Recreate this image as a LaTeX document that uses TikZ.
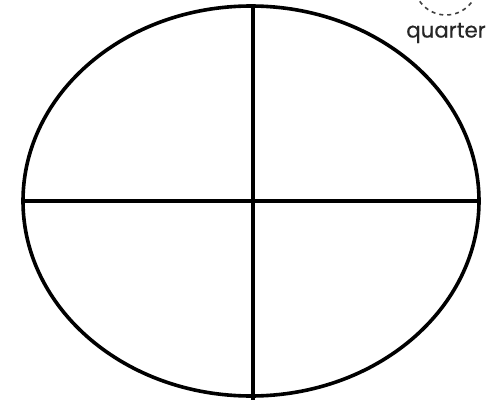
\documentclass[tikz,border=0pt]{standalone}
\usepackage{fontspec}
\setmainfont{Poppins}
\newfontfamily\tagfont{Poppins}[FakeBold=0.5]
\usetikzlibrary{shapes.geometric}

\begin{document}
\begin{tikzpicture}[x=0.75pt, y=-0.75pt, line width=2.7pt,
  every node/.style={inner sep=0pt, outer sep=0pt},
  shapebox/.style={draw, ellipse, minimum width=342pt, minimum height=292.5pt},
  hintcircle/.style={draw=black!75, circle, dashed, line width=1.2pt, minimum size=48pt},
  tag/.style={fill=white, font=\tagfont\fontsize{16}{19}\selectfont, text=black!85, inner sep=2pt}]
\useasboundingbox (0,0) rectangle (490,400);
\node[shapebox] (whole) at (251,201) {};
\coordinate (tail) at (253,400);
\draw (whole.north) ++(2,0) -- (tail);
\draw (whole.west) -- (whole.east);
\node[hintcircle] (piece) at (446,-17) {};
\node[tag] (quarter) at (446,33) {quarter};
\end{tikzpicture}
\end{document}
